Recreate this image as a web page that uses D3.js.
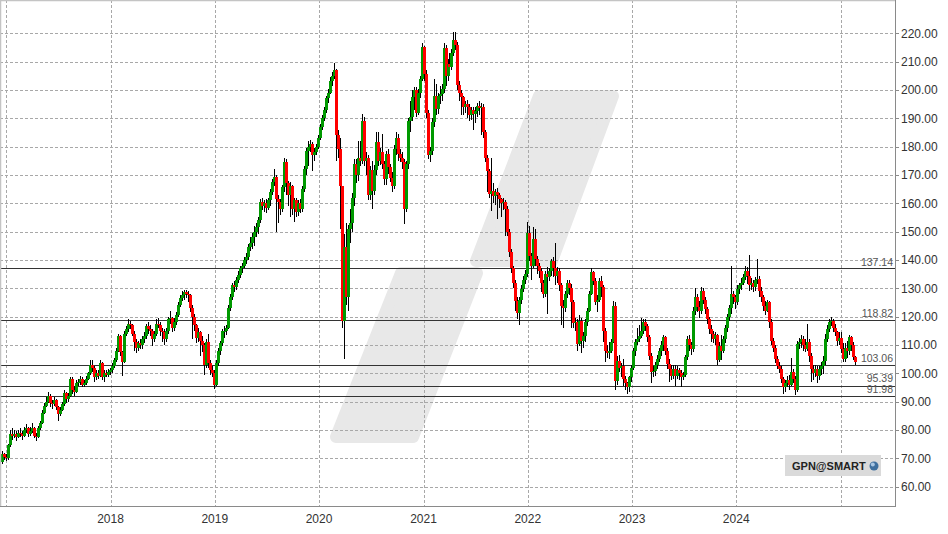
<!DOCTYPE html>
<html><head><meta charset="utf-8">
<script src="https://cdn.jsdelivr.net/npm/d3@7"></script>
<style>html,body{margin:0;padding:0;background:#fff;} svg{display:block;font-family:"Liberation Sans",Arial,sans-serif;}</style>
</head><body>
<svg id="c" width="948" height="534"></svg>
<script>
// Weekly candles, GPN, Dec 2016 - Feb 2025 (open = previous close)
const close=[71.5,70.5,70,74.5,78.5,78,78.5,77.5,79,78.5,
78,80,80.5,78.5,79.5,80.5,78,77.5,80.5,82.5,
86,88.5,90,92,89.5,89,90.5,88,85.5,87,
89,93,91,92,98,94,93.5,96.5,97,98,
96,96.5,98,100,103,102,98.5,100,99,103.5,
98.5,100,99.5,100.5,101,102.6,104.5,108,113,107.5,
104,114,115.5,117.5,117,114,111,109,110.5,110,
112,113,116.5,115.5,115,112,114,117.5,117,115,
114.5,112,115,119,119.5,116,118,120.5,124,126.5,
127.5,128.5,128,127.5,123,120,117,112.5,114.5,111.5,
110,103,111,103.5,101,100,96,103.5,108,110.7,
114.8,115,116,123,127,131,130.5,133,134.8,137,
138,139.8,141,144.5,146,148,150,151.5,154,160.4,
159,160,158.5,161,164,167.4,169.2,161.5,160.5,158,
165.6,174.5,167,163,166,158,161,157,160,158,
165,172,178.6,180,181,177,178,180,183,187,
190,193,197,199,203,205,207,184,179,166,
118.5,144.5,127,151,153,162,174,170,176,175,
189,175,176,163,171.6,164.5,171.6,181.5,175,178,
174,168.6,177.5,172.7,169,166,179,183,177.5,176,
174.5,158,174,189,190.5,197.4,200,192,199,204,
215,205.7,192,177,178.6,188.6,198,193.4,198,198.5,
200.5,214.7,205,209,208,213,217.5,216,201.6,199,
197.5,194,195,194,191,193,191.5,192.7,194.5,193.5,
194,185,176,171.5,163.4,164.5,162.7,164,163,161.6,
160,160.5,158,150,142.7,137,132,125.6,121.3,126,
129.8,133,135,149.6,141.4,138,147.5,140.4,138,136,
132,128,135,134,136,139.7,137,134.4,136,131,
123.8,123,128,131.9,130,125,117.8,118,110.4,118.5,
111.4,113,118,122,128,135.6,132.7,125,126,132.7,
130.3,115,108,107,108,111,123.8,97.3,104.4,102,
102.6,98,96.5,95,98.5,102,108,111,112,113.2,
115,118,116.6,112.7,106,100.3,100.8,103,105,107.9,
110,112.7,108,103.3,101.6,99,101.6,99,101,100,
98.5,99.5,105.6,112,110,108.5,122,126.8,123.3,122,
129,126,122.5,119,115.6,114,112.2,113.5,104.5,109.5,
108,112.2,116,119.7,123,128,126.8,125,129.8,131,
132,133.8,136.2,134.4,131,132,130.3,133,133.4,129,
126.8,123.8,122,125,118,111.4,109,105,102.6,101.6,
98,95,96.5,97.5,96,100.3,98,94,110.4,111,
112,110,108.7,111,106,101.5,100,101.5,99.1,101.5,
102.6,104.4,112.2,115.7,118,118.5,116,114.4,111.5,112.5,
108.7,105,109,108,112.7,110,105.6,104];
const high=[72.5,72,71.5,75,80,80.5,80,79.5,80,80.5,
79.5,81,82,81,81,82.5,81,79,81.5,83,
87,89.5,91.5,93.5,92.5,90.5,91.5,91,88.5,88,
90,94,93.5,93,98.5,98.5,95.5,97.5,98,99,
98.5,97.5,99,100.5,104.5,104.5,102.5,101,101,104.5,
104,101,101,101.5,102,103.5,105.5,109,114,113.5,
108,115,116.5,119,118.5,117.5,115,112,111.5,112,
113,114.5,117.5,118,117,115.5,115,119,119.5,118,
116,115.5,116,120,122,120,119.5,121.5,125,127.5,
129,129.5,129.5,129,128,124,121,117.5,116,115,
113,110.5,112,114,104.5,102.5,101,104.5,109,111.5,
115.5,116.5,117,124,128,132,132.5,134,136,138,
139,141,142.5,145.5,148,149.5,152,153,155,161.5,
162,161,161.5,162,165,168.5,172,170,163,161.5,
166.5,176,175.5,168,167.5,166.5,162,162,161,161.5,
166,173,179.5,182,182.5,181.5,179.5,181,184,188,
191,194,198,200.5,204.5,206.5,209.5,207.5,186,183,
155,149,153,152.5,158,163.5,175.5,175.5,182,182,
191.5,190.5,178,177,173,175,173.5,185,185,179.5,
184.5,175,178.5,179,174,171,180.5,185,184.5,179,
178,175.5,175,190,196,200,201,201,200.5,205,
216.5,215.5,207,193,180,190,204,202,199,201.5,
202,216.5,216,211,213,214.5,220.5,220.4,217,203,
200,198,196,196.5,195,194,194,194,195.5,196,
195.5,195,186,177,172,176,167,165,165.5,163.5,
162,162,161,159,151,144,138,133,127,127,
131,134.5,136.5,153.3,152,142.5,151.5,151,141.5,139,
137,133,136,137.5,137,140.5,141,146,137.5,137,
132,126,129,133,133,131.5,126,119.5,119,120.5,
119.5,114.5,119,123,129,137,136,133.5,127.5,133.5,
134.5,131,116,110,111,112,125.5,125,106,106.5,
103.5,105,99,97,99,103,109,112,116,117,
119.5,119,119,117.5,113.5,107,102.5,104,106.5,109,
111.5,113.5,113,109,105,103,103,103,102.5,102,
101,100.5,106.5,113,113.5,111,123.5,130,128,125.5,
130.5,130,127,123.5,120,117,115,114.5,114,111,
113.5,113,117,121,124,138,129,127.5,131,132,
133.5,135,138,137.5,141.6,133.5,133,134,140.5,134.5,
130.5,127.5,125.5,126,125.5,119,112.5,110,106,104,
102.5,98.5,97.5,99,99.5,105.5,101.5,99,111.5,112.5,
113.5,113,112,117.5,112,107,103,103,102.5,102.5,
104,106,114,117,119,120,119,117.5,115,114.5,
114.5,110.5,110.5,111.5,113.5,113,111,106];
const low=[68,69.5,69,69.5,74,76.5,77,76,77,77.5,
76.5,77.5,79,77.5,78,79,77,76,77,80,
82,85.5,88,89.5,88,87.5,88.5,87,83,85,
86.5,88.5,89.5,90,91.5,92.5,92,93,95.5,96,
95,95,96,97.5,99.5,100.5,97,97.5,98,98.5,
97.5,97,98.5,98.5,99.5,100,102,104,107.5,106,
99,103.5,113,114.5,115.5,113,108,107,108,108.5,
108.5,110.5,112,114,113,109.5,111,113,116,113,
111,110,111,114,117.5,114.5,115,117,120,123.5,
125.5,126,126.5,125,121.5,112,115,110.5,111,106,
107.5,99.5,102,102,99.5,98.5,94.5,95.5,102.5,106.5,
109.5,112.5,113.5,115.5,122,126,128.5,129.5,132,133.5,
135.5,137,138.5,140,143,144,145,148,149,153,
157.5,157,156.5,157.5,159,163,166,150,153,156,
157,164,163,159,155,156,153.5,155,155.5,156.5,
157,164,170,173,178,171.5,175,177,179,182.5,
186,189,192,195.5,198.5,201.5,204,175,176,151,
116,105,124,122,146,150,159,167,168,173,
174,173,170,161,161,158,163,170,173,173.5,
172,166.5,166.5,170.5,167.5,164,165,177,175,174.5,
172,152.7,157,172,185,189,193,190.5,191,197,
203,203,190,175.5,174.5,177,187,191,191.5,195,
196,199,201.5,203,205.5,207,212,214,200,196,
191,191,192,190,189,189.5,186,188.5,190.5,191,
184,183,174.5,164,162,157.3,160,159.5,154.5,158.5,
155,157.5,148.5,148.5,141,135.5,130,122,119,117,
124.5,128.5,131.5,134,139.5,133,137,138,135,133.5,
128.5,126.5,127,121,132.5,134.5,134,131,132,129,
117,116,121.5,126.5,127.5,116,116,115,108,109.5,
107,109,111,116.5,121.5,127.5,131,124,121.5,125,
127,111,104,105.5,105,107,110.5,94,96,100.5,
98.5,95.5,94,92.5,93.5,97,101,106,110,111,
112.5,114,115,111,104.5,96.5,98.5,99,101.5,104,
106,108,106.5,101.5,97,97.5,98,95.5,98,97.5,
95,97.5,98.5,104.5,108,106.5,107.5,120.5,121.5,119.5,
121,124.5,121,117.5,114,111,110.5,110,103,104,
104.5,107,110.5,114.5,118.5,121,124.4,122.5,124,128,
129.5,131,133,131.5,129,129.5,128.5,129,131.5,127,
125,122,120.5,121.5,116,110,107.5,103.5,101.5,100,
96.5,92.5,93.5,95,94,95.5,96.5,92.3,93.5,108.5,
109,108,107.5,108,104,97,97.5,98.5,96.5,97.5,
99.5,99.8,103,111,114.5,116.5,114.5,113,109.5,110,
107,104,104,105.5,106.5,108,104.5,103];
const firstOpen=68.5;
const firstWeek=[2016,11,16];
const yTicks=[60,70,80,90,100,110,120,130,140,150,160,170,180,190,200,210,220];
const yearLines=[2017,2018,2019,2020,2021,2022,2023,2024,2025];
const yearLabels=[2018,2019,2020,2021,2022,2023,2024];
const levels=[137.14,118.82,103.06,95.39,91.98];
const levelLift=[2.5,2.5,2.5,4.5,2.5];
const symbolText="GPN@SMART";

const PR=895, PB=506;
const svg=d3.select("#c");
const x=d3.scaleTime().domain([new Date(2016,11,10),new Date(2025,6,10)]).range([0,PR]);
const y=d3.scaleLinear().domain([53.12,231.77]).range([PB,0]);
const start=new Date(firstWeek[0],firstWeek[1],firstWeek[2]);
const candles=close.map((c,i)=>({date:d3.timeDay.offset(start,7*i),o:i?close[i-1]:firstOpen,h:high[i],l:low[i],c}));

svg.append("defs").append("clipPath").attr("id","plot").append("rect").attr("x",0).attr("y",0).attr("width",PR).attr("height",PB);

// watermark
const wm=svg.append("g").attr("clip-path","url(#plot)");
const pieces=[[[539,96],[613,96],[552,261],[476,261]],[[401,273],[477,273],[413,437],[336,437]]];
wm.selectAll("path").data(pieces).join("path")
  .attr("d",p=>"M"+p.map(q=>q.join(",")).join("L")+"Z")
  .attr("fill","#e8e8e8").attr("stroke","#e8e8e8").attr("stroke-width",12).attr("stroke-linejoin","round");

// grid
const grid=svg.append("g");
grid.selectAll("line.h").data(yTicks).join("line").attr("class","h")
  .attr("x1",0).attr("x2",PR).attr("y1",d=>Math.round(y(d))+0.5).attr("y2",d=>Math.round(y(d))+0.5)
  .attr("stroke","#a8a8a8").attr("stroke-dasharray","3,2");
grid.selectAll("line.v").data(yearLines).join("line").attr("class","v")
  .attr("y1",0).attr("y2",PB).attr("x1",d=>Math.round(x(new Date(d,0,1)))+0.5).attr("x2",d=>Math.round(x(new Date(d,0,1)))+0.5)
  .attr("stroke","#a8a8a8").attr("stroke-dasharray","3,2");

// support lines
const lv=svg.append("g");
lv.selectAll("line").data(levels).join("line")
  .attr("x1",0).attr("x2",PR).attr("y1",d=>Math.round(y(d))+0.5).attr("y2",d=>Math.round(y(d))+0.5)
  .attr("stroke","#333").attr("stroke-width",1.2);
lv.selectAll("text").data(levels).join("text")
  .attr("x",PR-2).attr("y",(d,i)=>y(d)-levelLift[i]).attr("text-anchor","end")
  .attr("font-size",10.5).attr("fill","#555").text(d=>d.toFixed(2));

// candles
const cg=svg.append("g").attr("clip-path","url(#plot)").attr("shape-rendering","crispEdges");
cg.selectAll("line").data(candles).join("line")
  .attr("x1",d=>Math.round(x(d.date))+0.5).attr("x2",d=>Math.round(x(d.date))+0.5)
  .attr("y1",d=>y(d.h)).attr("y2",d=>y(d.l)).attr("stroke","#000").attr("stroke-width",1);
cg.selectAll("rect").data(candles).join("rect")
  .attr("x",d=>Math.round(x(d.date))-1).attr("width",3)
  .attr("y",d=>y(Math.max(d.o,d.c))).attr("height",d=>Math.max(1,Math.abs(y(d.o)-y(d.c))))
  .attr("fill",d=>d.c>=d.o?"#009900":"#ff0000");

// borders
svg.append("line").attr("x1",0.5).attr("x2",0.5).attr("y1",0).attr("y2",PB).attr("stroke","#c4c4c4").attr("stroke-width",1.5);
svg.append("line").attr("x1",0).attr("x2",PR).attr("y1",0.5).attr("y2",0.5).attr("stroke","#c4c4c4").attr("stroke-width",1.5);
svg.append("line").attr("x1",PR+0.5).attr("x2",PR+0.5).attr("y1",0).attr("y2",PB+1).attr("stroke","#8a8a8a");
svg.append("line").attr("x1",0).attr("x2",PR+1).attr("y1",PB+0.5).attr("y2",PB+0.5).attr("stroke","#8a8a8a");

// y axis labels
const ya=svg.append("g");
ya.selectAll("line").data(yTicks).join("line").attr("x1",PR).attr("x2",PR+4)
  .attr("y1",d=>Math.round(y(d))+0.5).attr("y2",d=>Math.round(y(d))+0.5).attr("stroke","#8a8a8a");
ya.selectAll("text").data(yTicks).join("text").attr("x",PR+6).attr("y",d=>y(d)).attr("dy","0.36em")
  .attr("font-size",12).attr("fill","#333").text(d=>d.toFixed(2));

// x axis labels
svg.append("g").selectAll("text").data(yearLabels).join("text")
  .attr("x",d=>x(new Date(d,0,1))).attr("y",523).attr("text-anchor","middle")
  .attr("font-size",12).attr("fill","#333").text(d=>d);

// symbol box
const sb=svg.append("g");
sb.append("rect").attr("x",785).attr("y",455).attr("width",96).attr("height",21).attr("fill","#dadada");
sb.append("text").attr("x",792).attr("y",470).attr("font-size",11).attr("font-weight","bold").attr("fill","#222").text(symbolText);
sb.append("circle").attr("cx",874).attr("cy",466).attr("r",4.5).attr("fill","#3f6f9e");
sb.append("circle").attr("cx",872.8).attr("cy",464.6).attr("r",2).attr("fill","#a9c6e3");
</script>
</body></html>
